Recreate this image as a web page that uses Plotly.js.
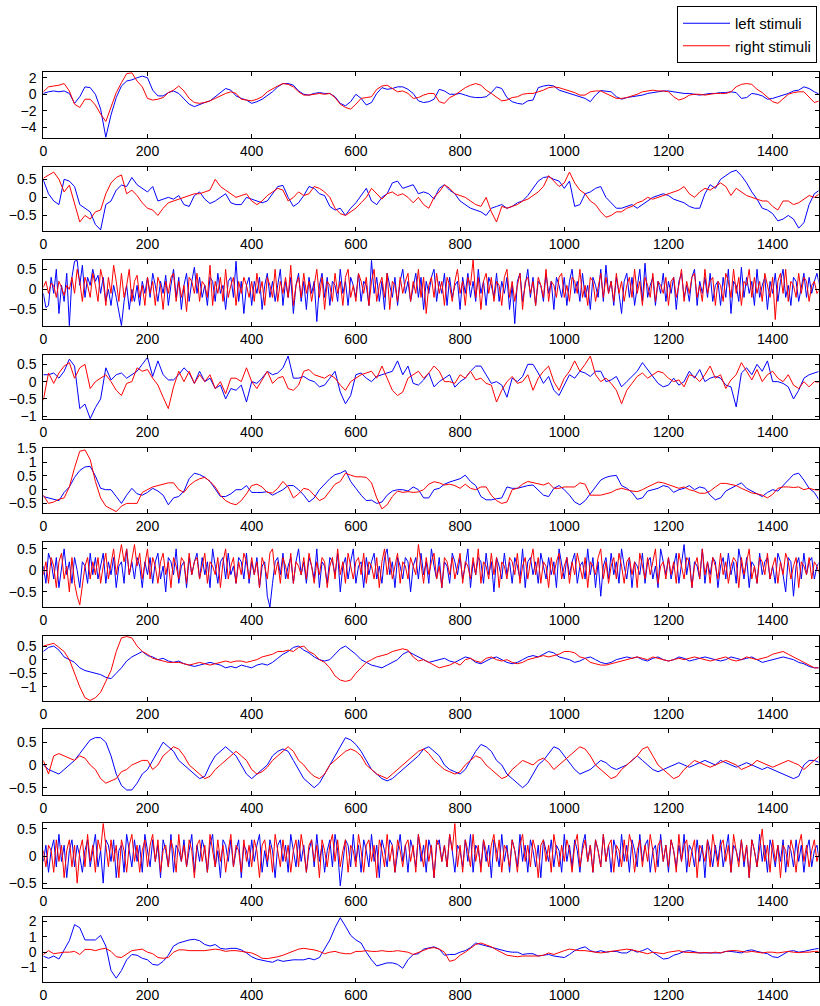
<!DOCTYPE html>
<html>
<head>
<meta charset="utf-8">
<script src="https://cdn.plot.ly/plotly-3.0.1.min.js"></script>
<style>
  html, body { margin: 0; padding: 0; background: #fff; }
  #chart { width: 820px; height: 1006px; }
</style>
</head>
<body>
<div id="chart"></div>
<script>
// Averaged responses per channel, sampled on a regular grid (step given per panel)
const xTicks = [0, 200, 400, 600, 800, 1000, 1200, 1400];
const xStep = [10, 10, 5, 10, 10, 5, 10, 10, 5, 10];

const p1Left = [0.1,0.3,0.4,0.3,0.4,0.1,-1.1,-0.3,0.9,0.8,
0.0,-1.8,-5.2,-2.5,-0.4,1.0,1.6,1.75,2.0,2.2,
2.0,0.5,-0.2,-0.2,0.2,0.4,0.1,-0.6,-1.2,-1.5,
-1.2,-1.0,-0.8,-0.3,0.2,0.7,0.5,-0.2,-0.5,-0.7,
-1.1,-0.9,-0.6,-0.2,0.3,0.9,1.3,1.3,1.1,0.4,
0.0,-0.1,0.1,0.2,0.1,0.1,-0.3,-1.1,-1.4,-0.9,
0.0,-0.5,-1.3,-1.0,0.1,0.8,0.6,0.7,0.9,0.9,
0.6,0.1,-0.8,-1.0,-0.9,-0.6,0.6,0.4,0.0,0.0,
0.1,-0.1,-0.3,-0.4,-0.4,-0.3,0.2,0.9,0.7,-0.4,
-0.9,-1.1,-1.2,-0.8,-0.7,0.8,1.0,1.1,1.0,0.5,
0.3,0.1,-0.1,-0.3,-0.5,-0.9,-0.1,0.45,0.4,0.3,
-0.3,-0.6,-0.4,-0.3,-0.2,-0.1,0.1,0.2,0.3,0.4,
0.4,0.3,0.2,0.1,0.1,0.0,-0.1,0.0,0.1,0.1,
0.2,0.2,0.3,0.2,-0.5,-0.4,0.1,0.0,-0.2,-0.6,
-0.5,-0.3,-0.1,0.1,0.4,0.5,0.9,0.7,0.3,0.0];
const p1Right = [0.3,0.9,1.0,1.1,1.3,0.4,-1.2,-1.6,-0.6,-0.6,
-1.3,-2.4,-3.3,-1.6,0.2,1.4,2.5,2.6,1.6,0.9,
-0.5,-0.7,-0.6,-0.4,0.2,0.5,1.0,0.4,-0.5,-1.0,
-1.1,-1.0,-0.8,-0.5,-0.2,0.1,0.3,0.1,-0.6,-0.7,
-0.8,-0.6,-0.3,0.3,0.7,1.0,1.3,1.2,0.9,0.3,
-0.1,-0.1,0.0,0.1,0.0,0.1,-0.4,-1.2,-1.6,-1.8,
-1.2,-0.5,-0.4,-0.3,0.6,1.0,1.1,0.7,0.3,0.4,
0.1,-0.5,-0.4,-0.1,0.1,0.1,-0.9,-1.1,-0.4,-0.1,
0.4,0.8,1.1,1.3,1.1,0.5,0.1,-0.3,-0.8,-0.7,
-0.4,-0.3,0.0,0.1,0.1,0.3,0.5,0.8,0.9,0.8,
0.6,0.4,0.2,-0.1,-0.1,0.3,0.4,0.4,0.1,-0.2,
-0.5,-0.5,-0.4,-0.2,0.0,0.3,0.4,0.5,0.4,0.4,
0.3,-0.3,-0.7,-0.5,-0.1,0.0,0.0,-0.1,0.0,0.1,
0.1,0.1,0.3,0.9,1.2,1.3,1.2,0.6,0.2,-0.4,
-0.9,-1.1,-0.5,0.0,0.2,0.3,0.3,-0.4,-1.0,-0.8];

const p2Left = [0.48,0.1,-0.1,-0.2,0.5,0.45,0.3,-0.2,-0.3,-0.4,
-0.75,-0.9,-0.2,-0.1,0.2,0.34,0.3,0.55,0.35,0.25,
0.15,0.3,-0.1,-0.05,0.0,-0.05,0.05,-0.2,-0.25,0.05,
0.15,-0.05,-0.17,-0.1,0.0,0.1,-0.15,-0.2,-0.2,0.0,
-0.05,-0.1,-0.15,-0.1,0.1,0.3,0.33,0.0,-0.25,-0.15,
0.05,0.3,0.25,0.1,0.05,-0.25,-0.35,-0.3,-0.5,-0.3,
-0.15,0.05,0.25,-0.1,-0.2,0.0,0.1,0.4,0.45,0.25,
0.3,0.35,0.1,0.15,0.1,-0.05,0.25,0.35,0.2,0.1,
-0.1,-0.2,-0.3,-0.35,-0.4,-0.5,-0.3,-0.25,-0.2,-0.3,
-0.25,-0.15,-0.1,0.05,0.25,0.45,0.55,0.57,0.5,0.45,
0.25,0.45,-0.25,-0.2,0.1,0.15,0.25,0.3,0.0,-0.15,
-0.3,-0.3,-0.25,-0.2,-0.3,-0.2,-0.1,0.0,0.05,0.1,
0.05,-0.05,-0.1,-0.15,-0.25,-0.3,-0.3,0.1,0.35,0.25,
0.5,0.6,0.7,0.75,0.6,0.4,0.15,-0.05,-0.3,-0.35,
-0.45,-0.65,-0.6,-0.5,-0.6,-0.85,-0.7,-0.2,0.1,0.2];
const p2Right = [0.53,0.62,0.7,0.5,0.15,0.34,-0.2,-0.68,-0.5,-0.6,
-0.4,-0.35,0.1,0.4,0.55,0.62,0.1,0.2,0.05,-0.15,
-0.3,-0.35,-0.5,-0.3,-0.15,-0.1,-0.05,0.0,0.05,0.1,
0.1,0.15,0.2,0.5,0.3,0.2,0.1,0.0,0.05,0.1,
-0.1,-0.2,-0.1,0.05,0.15,0.25,0.2,-0.1,0.0,0.15,
0.05,0.1,0.3,0.25,0.15,0.0,-0.3,-0.45,-0.5,-0.4,
-0.3,-0.15,0.0,0.25,0.1,-0.05,0.1,0.15,0.05,0.1,
0.0,-0.15,0.0,-0.2,-0.3,0.0,0.15,0.35,0.25,0.1,
0.05,0.0,-0.1,-0.2,-0.25,0.0,-0.4,-0.68,-0.25,-0.3,
-0.25,-0.2,-0.1,-0.05,0.05,0.15,0.3,0.6,0.45,0.3,
0.4,0.7,0.4,0.2,0.1,-0.1,-0.2,-0.4,-0.55,-0.5,
-0.4,-0.4,-0.3,-0.25,-0.15,-0.1,0.0,-0.05,0.0,0.05,
0.1,0.15,0.2,0.3,0.1,0.0,0.15,0.25,0.2,0.3,
0.4,0.3,0.05,0.25,0.15,0.05,0.0,-0.05,-0.1,-0.1,
-0.25,-0.35,-0.1,-0.1,-0.2,-0.15,-0.05,0.05,0.0,0.1];

const p3Left = [-.1,-.45,-.4,.3,-.1,.5,-.6,.1,-.3,.4,-.9,.3,.7,.72,.1,.6,-.2,.3,.1,.5,
.2,.35,-.1,.3,-.3,0,-.4,.1,-.2,-.6,-.9,-.3,.1,-.5,0,-.3,.1,-.4,.2,-.1,
.3,-.2,.4,.1,-.3,.2,-.1,.35,-.4,.1,.5,-.2,.3,-.5,.1,.4,-.3,.2,.55,-.1,
.3,-.2,.1,-.4,.3,.2,-.3,.4,-.1,.1,-.5,.2,.3,-.2,.7,-.3,.2,-.6,.1,.3,
-.4,.2,-.1,.3,-.5,.1,.4,-.2,.2,-.3,.1,.5,-.4,.2,-.2,.3,-.6,.1,.4,-.3,
.2,-.5,.3,-.1,.2,-.8,.1,.4,-.2,.3,-.4,.2,.1,-.3,.5,-.1,.2,-.4,.3,.1,
-.2,.4,-.3,.2,.1,-.4,.72,-.1,.3,-.3,.2,-.5,.4,.1,-.2,.3,-.4,.2,.5,-.1,
.2,-.3,.1,.4,-.2,.3,-.5,.2,-.1,.3,.5,-.3,.2,-.1,.4,-.4,.3,-.2,.1,.2,
-.5,.3,-.1,.4,-.2,.2,-.3,.5,-.1,.2,-.4,.3,.1,-.2,.4,-.3,.2,-.1,.3,-.5,
.1,-.85,.2,.4,-.3,.1,.5,-.2,.3,-.4,.2,.1,-.3,.4,-.1,.2,-.5,.3,.1,-.2,
.3,-.4,.2,.5,-.1,.2,-.3,.4,-.2,.1,-.5,.3,.1,-.2,.5,-.3,.6,-.1,.2,-.4,
.3,-.1,-.6,.2,.4,-.2,.3,-.4,.1,.5,-.3,.65,-.2,.1,.3,-.4,.2,-.1,.4,-.3,
.2,-.1,.3,-.5,.2,.4,-.2,.1,-.3,.3,.5,-.4,.2,-.1,.3,-.2,.4,-.3,.1,.2,
-.4,.3,-.2,.5,-.6,.2,.1,-.3,.55,-.2,.3,-.1,.2,-.4,.5,-.2,.1,.3,-.5,.2,
-.1,.4,-.3,.2,.5,-.2,.1,-.4,.3,.2,-.3,.1,.4,-.2,.3,-.1,.2,.4,.1];
const p3Right = [.05,.2,-.1,.15,.1,-.2,.2,.05,-.15,.1,0,.3,-.1,.5,.2,-.3,.3,.1,-.2,.4,
.1,-.3,.5,.2,-.4,.3,-.1,.6,.2,-.3,.4,-.2,.1,.5,-.3,.2,.35,-.2,.1,-.4,
.3,-.1,.2,-.4,.3,.1,-.5,.2,-.1,.3,.4,-.3,.2,-.2,.1,-.55,.3,.2,-.1,.4,
-.3,.2,.1,-.2,.6,-.4,.2,-.1,.3,-.3,.5,-.2,.1,.3,-.4,.2,-.1,.3,.1,-.2,
.2,-.3,.4,-.1,.2,-.4,.3,.1,-.2,.5,-.3,.2,-.1,.3,-.2,.6,-.4,.1,.3,-.2,
.4,-.1,.2,-.3,.1,.5,-.2,.3,-.5,.2,.1,-.3,.4,-.1,.2,-.4,.3,.5,-.2,.1,
-.3,.4,.2,-.1,.3,-.4,.2,.5,-.3,.1,.3,-.2,.4,-.5,.2,.1,-.3,.3,-.1,.2,
.4,-.3,.2,-.1,.5,-.2,.3,-.6,.1,.3,-.2,.4,-.1,.2,-.4,.3,.1,-.3,.2,.5,
-.1,.2,-.4,.3,.1,.73,-.2,.3,-.5,.2,.4,-.1,.3,-.3,.2,.1,-.4,.3,.5,-.2,
.2,-.3,.1,.4,-.5,.2,.3,-.1,.2,-.4,.3,.1,-.2,.5,-.3,.2,.1,-.2,.3,.4,
-.2,.1,-.3,.3,.2,-.1,.5,-.2,.1,-.4,.3,.2,-.3,.1,.4,-.2,.3,-.1,.2,-.3,
.4,-.1,.2,-.3,.1,.3,-.2,.5,-.1,.2,-.4,.3,.1,-.2,.4,-.3,.2,.1,-.1,.3,
-.4,.2,.3,-.2,.1,.5,-.3,.2,-.1,.3,.4,-.2,.1,-.3,.5,-.1,.2,.3,-.4,.2,
.1,-.3,.4,.2,-.2,.5,-.1,.3,-.4,.2,.1,.5,-.2,.3,-.1,.2,-.3,.4,.1,-.2,
.3,-.75,.2,.4,-.1,.5,-.3,.2,.1,-.2,.4,-.1,.3,.2,-.3,.1,.2,-.1,0];

const p4Left = [0.2,0.2,0.25,0.1,0.3,0.65,0.45,-0.78,-0.65,-1.07,
-0.75,-0.5,0.4,0.05,0.2,0.25,0.1,0.2,0.3,0.5,
0.7,0.15,0.6,0.2,0.05,0.05,0.2,0.4,0.25,-0.05,
0.3,0.0,0.1,-0.2,-0.1,-0.5,-0.2,-0.25,-0.1,-0.59,
0.0,-0.05,0.1,0.3,0.2,0.25,0.4,0.74,0.1,0.1,
0.15,0.05,0.0,-0.15,-0.1,0.1,0.3,-0.3,-0.64,-0.4,
0.2,0.25,0.1,0.0,0.15,0.2,0.25,0.3,0.6,0.2,
0.45,-0.05,-0.1,0.05,0.25,-0.15,0.0,0.1,0.2,-0.16,
0.0,0.1,0.3,0.45,0.45,0.2,-0.05,0.0,-0.1,-0.45,
0.1,0.0,0.15,0.5,0.5,0.25,-0.05,0.15,-0.25,-0.4,
-0.1,0.2,0.1,0.3,0.25,0.15,0.3,0.3,0.0,0.05,
0.15,-0.15,0.0,0.15,0.3,0.55,0.35,0.15,-0.05,-0.15,
-0.1,0.1,-0.1,0.0,0.3,0.1,0.35,0.0,0.1,0.15,
0.1,-0.1,-0.15,-0.73,0.25,0.4,0.2,0.5,0.3,0.6,
0.0,0.0,-0.05,-0.15,-0.5,-0.25,0.1,0.2,0.25,0.3];
const p4Right = [-0.54,0.25,-0.05,0.25,0.45,0.55,0.1,0.4,0.5,-0.2,
0.0,0.1,0.2,0.0,-0.25,-0.4,-0.05,0.0,0.4,0.3,
0.35,0.1,-0.1,-0.45,-0.78,-0.15,0.3,0.0,0.3,-0.05,
0.2,0.0,0.2,-0.2,0.0,-0.35,0.1,0.1,0.0,0.4,
0.0,-0.2,0.05,0.3,-0.05,0.1,0.15,-0.2,-0.25,-0.1,
0.3,0.35,0.2,0.15,0.1,0.2,0.1,-0.1,-0.25,0.0,
0.1,0.2,0.25,0.3,0.1,0.45,0.1,-0.25,-0.4,-0.3,
0.1,0.2,0.3,0.1,0.25,0.45,0.3,0.0,0.0,-0.05,
0.2,0.1,0.3,0.05,0.1,-0.05,-0.1,-0.59,-0.25,0.0,
0.15,-0.05,0.0,0.2,-0.25,0.1,0.3,0.45,0.0,-0.25,
0.1,0.3,0.6,0.3,0.5,0.74,0.2,0.0,0.1,-0.05,
-0.25,-0.64,-0.25,-0.05,0.15,0.25,0.1,0.2,0.3,0.25,
0.1,0.0,0.05,-0.15,0.2,0.15,0.0,0.2,0.45,0.1,
0.2,-0.2,0.05,0.2,0.55,0.3,0.05,0.35,0.0,0.2,
0.3,0.1,0.0,0.2,-0.1,-0.2,0.0,-0.15,0.0,-0.02];

const p5Left = [-0.25,-0.3,-0.37,-0.4,-0.1,0.1,0.45,0.7,0.83,0.85,
0.5,0.05,0.0,0.0,-0.25,-0.5,-0.2,0.05,-0.15,-0.2,
-0.1,0.05,-0.05,-0.2,-0.55,-0.3,-0.25,-0.05,0.4,0.6,
0.55,0.45,0.3,0.0,-0.25,-0.25,-0.15,0.0,0.0,0.15,
-0.1,-0.1,-0.1,-0.07,-0.2,-0.1,0.0,0.15,0.15,0.0,
-0.2,-0.45,-0.3,0.0,0.2,0.4,0.55,0.6,0.7,0.3,
0.05,-0.2,-0.4,-0.38,-0.5,-0.45,-0.2,-0.05,0.0,0.0,
-0.05,0.1,0.0,-0.3,-0.3,0.0,0.05,0.2,0.28,0.35,
0.4,0.53,0.3,0.15,-0.25,-0.37,-0.37,-0.33,-0.3,0.1,
0.05,0.05,0.1,0.15,0.17,0.0,-0.2,-0.25,0.05,0.15,
0.0,-0.2,-0.45,-0.55,-0.4,-0.15,0.1,0.35,0.45,0.5,
0.52,0.15,0.05,-0.1,-0.35,-0.3,-0.05,0.0,0.05,0.15,
0.1,-0.1,0.0,0.05,0.15,0.0,0.1,0.05,-0.2,-0.37,
-0.3,-0.05,0.05,0.15,0.25,0.05,-0.05,-0.15,-0.25,-0.1,
0.0,-0.05,0.15,0.35,0.55,0.6,0.35,0.05,-0.1,-0.4];
const p5Right = [-0.2,-0.5,-0.45,-0.35,-0.3,0.1,0.8,1.4,1.45,1.1,
0.3,-0.3,-0.6,-0.7,-0.8,-0.6,-0.5,-0.5,-0.5,-0.1,
0.0,0.1,0.15,0.2,0.25,0.25,0.0,-0.1,0.15,0.3,
0.4,0.45,0.3,0.1,-0.2,-0.4,-0.5,-0.55,-0.4,-0.15,
0.15,0.2,0.1,-0.1,-0.12,0.05,0.3,0.1,-0.3,-0.15,
0.05,0.0,-0.2,-0.4,-0.3,-0.05,0.2,0.3,0.6,0.53,
0.47,0.47,0.45,0.25,-0.3,-0.7,-0.55,-0.25,-0.05,-0.1,
-0.07,-0.1,-0.08,0.0,0.2,0.29,0.25,0.17,0.2,0.15,
0.05,0.2,0.05,0.0,0.1,0.1,-0.2,-0.4,-0.5,-0.45,
0.0,0.05,0.2,0.3,0.25,0.2,0.17,0.25,0.05,0.05,
0.1,0.1,0.1,0.25,0.2,-0.2,-0.2,-0.2,-0.15,-0.1,
0.0,0.05,0.0,-0.05,-0.07,0.0,0.1,0.2,0.28,0.25,
0.18,0.12,0.05,0.1,0.0,-0.05,-0.13,-0.13,-0.05,0.1,
0.23,0.23,0.2,0.15,0.05,-0.05,-0.12,-0.15,-0.2,-0.3,
-0.17,0.05,0.1,0.1,0.08,0.1,0.0,0.05,0.0,-0.02];

const p6Left = [.1,-.3,.4,.2,-.2,.3,-.4,.1,.5,-.1,.2,-.3,.3,0,-.4,.2,.1,-.3,.4,-.1,
.3,-.2,.1,.4,-.3,.2,-.1,.3,-.4,.1,.2,-.3,.5,-.1,.2,-.2,.3,.1,-.4,.2,
-.1,.3,-.3,.2,.4,-.2,.1,-.5,.3,.2,-.1,.5,-.3,.1,.2,-.4,.3,-.1,.2,.4,
-.2,.3,-.1,.2,-.4,.5,.1,-.3,.2,.3,-.2,.4,-.1,.1,-.3,.3,.2,-.2,.4,-.3,
.2,-.1,.3,-.4,.1,.2,-.6,-.85,-.3,.2,.3,-.1,.4,-.2,.1,.3,-.3,.2,.5,-.1,
.2,-.3,.3,.1,-.2,.5,-.4,.2,.1,-.3,.3,.2,-.1,.4,-.5,.1,.3,-.2,.2,.5,
-.3,.1,.2,-.4,.3,-.1,.2,.4,-.2,.1,-.3,.3,.5,-.1,.2,-.4,.3,.1,-.2,.3,
.2,-.5,.1,.3,-.2,.4,-.1,.2,-.3,.5,.1,-.2,.3,-.4,.2,.1,-.3,.4,.2,-.1,
.3,-.2,.1,.5,-.4,.2,-.1,.3,.2,-.3,.4,-.1,.2,-.5,.3,.1,-.2,.4,-.1,.2,
-.3,.3,.1,-.2,.5,-.4,.2,.3,-.1,.2,-.3,.4,.1,-.2,.3,-.1,.2,-.4,.5,.1,
-.2,.3,-.1,.2,.4,-.3,.1,.2,-.2,.5,-.1,.3,-.4,.2,-.6,.1,.3,-.2,.4,-.1,
.2,-.3,.5,.1,-.2,.3,-.4,.2,.1,-.1,.4,-.3,.2,.3,-.2,.1,-.4,.5,.2,-.1,
.3,-.2,.1,.4,-.3,.2,.6,-.1,.3,-.4,.2,.1,-.2,.5,-.3,.2,-.1,.3,.2,-.4,
.1,.3,-.2,.4,-.1,.2,-.3,.5,.1,-.2,.3,-.4,.2,.1,-.3,.4,-.1,.2,.3,-.2,
.1,-.3,.4,.2,-.1,-.5,.3,.2,-.6,.1,.3,-.2,.4,-.1,.2,.3,-.2,.1,.2];
const p6Right = [-.1,.2,-.3,.3,.1,-.4,.2,.4,-.2,.1,-.5,.3,-.3,-.6,-.8,-.4,.1,.3,-.2,.2,
-.1,.3,-.3,.1,.4,-.2,.2,.5,-.1,.3,.6,.2,.5,-.1,.3,.6,.1,.4,-.2,.2,
.5,-.2,.3,.1,-.3,.2,.4,-.1,.2,-.4,.3,.1,-.2,.3,.2,-.3,.4,-.1,.2,.3,
-.2,.1,.4,-.3,.2,.1,-.1,.3,-.4,.2,.5,-.2,.1,.3,-.3,.2,-.1,.4,.2,-.2,
.3,-.1,.2,-.4,.3,.1,-.2,.4,.5,-.1,.2,-.3,.3,.1,-.2,.4,-.3,.2,.1,-.1,
.3,-.2,.4,.1,-.3,.2,-.1,.3,.2,-.4,.1,.3,-.2,.5,-.1,.2,-.3,.4,.1,-.2,
.2,.3,-.1,.4,-.3,.2,.1,-.2,.3,-.4,.2,.5,-.1,.3,-.2,.1,.4,-.3,.2,.1,
-.2,.3,.1,-.1,.6,.2,-.3,.3,-.1,.2,.4,-.2,.1,-.4,.3,.2,-.1,.3,-.2,.1,
.4,-.3,.2,.1,-.2,.3,-.1,.5,-.3,.2,.1,-.2,.4,-.1,.3,-.4,.2,.1,-.2,.3,
.2,-.1,.4,-.3,.1,.3,-.2,.2,.5,-.1,.3,-.3,.2,.1,-.4,.3,-.1,.2,.4,-.2,
.1,.3,-.3,.2,-.1,.4,.1,-.2,.3,-.4,.2,.1,-.1,.3,.5,-.2,.2,-.3,.1,.3,
-.2,.4,.1,-.3,.2,.3,-.1,.2,-.4,.4,.1,-.2,.3,-.1,.2,.5,-.3,.1,.2,-.2,
.3,-.1,.2,-.3,.4,.1,-.2,.3,.2,-.4,.1,.3,-.2,.5,-.1,.2,-.3,.3,.1,-.2,
.4,-.1,.2,-.3,.1,.3,.2,-.4,.3,-.1,.2,.5,-.2,.1,-.3,.3,.2,-.1,.4,-.2,
.1,.3,-.3,.2,-.1,.4,.2,-.2,.1,.3,-.4,.2,.1,-.1,.3,-.2,.2,.1,-.1];

const p7Left = [0.3,0.45,0.5,0.35,0.1,0.0,-0.1,-0.3,-0.4,-0.45,
-0.5,-0.55,-0.65,-0.7,-0.5,-0.3,-0.05,0.1,0.2,0.3,
0.15,0.1,0.0,0.05,-0.05,-0.1,-0.05,-0.15,-0.2,-0.25,
-0.2,-0.15,-0.1,-0.15,-0.2,-0.3,-0.25,-0.3,-0.2,-0.25,
-0.3,-0.2,-0.15,-0.2,-0.1,0.05,0.2,0.3,0.45,0.5,
0.35,0.25,0.1,0.0,-0.05,0.0,0.2,0.4,0.5,0.35,
0.2,0.0,-0.1,-0.2,-0.25,-0.3,-0.2,-0.1,0.0,0.2,
0.3,0.2,0.1,0.0,-0.1,-0.05,0.0,0.05,-0.05,-0.1,
0.0,0.1,0.05,-0.1,-0.15,-0.05,0.05,0.1,0.0,-0.1,
-0.15,-0.1,0.0,0.1,0.15,0.1,0.2,0.3,0.25,0.1,
0.05,0.0,-0.1,-0.05,0.05,0.1,0.0,-0.1,-0.15,-0.1,
0.0,0.05,0.1,0.05,0.1,0.0,-0.05,0.05,0.1,0.0,
-0.05,0.0,0.1,0.05,-0.05,0.0,0.05,0.1,0.05,0.0,
-0.05,0.0,0.1,0.05,0.0,0.05,0.1,0.0,-0.1,-0.05,
0.0,0.05,0.1,0.05,0.0,-0.1,-0.15,-0.25,-0.3,-0.3];
const p7Right = [0.5,0.55,0.6,0.45,0.3,0.0,-0.5,-1.0,-1.4,-1.5,
-1.4,-1.2,-0.8,-0.4,0.3,0.8,0.85,0.8,0.5,0.3,
0.2,0.05,0.0,-0.05,-0.1,-0.1,-0.1,-0.15,-0.2,-0.15,
-0.1,-0.15,-0.2,-0.15,-0.1,-0.05,-0.1,-0.05,-0.05,-0.1,
-0.05,0.0,0.1,0.15,0.2,0.3,0.3,0.35,0.3,0.45,
0.5,0.3,0.2,0.0,-0.1,-0.3,-0.6,-0.75,-0.8,-0.75,
-0.5,-0.3,-0.1,0.0,0.1,0.15,0.2,0.3,0.35,0.4,
0.35,0.1,-0.05,0.0,-0.1,-0.2,-0.3,-0.25,-0.2,-0.1,
-0.2,0.0,0.05,-0.05,-0.1,0.05,0.1,0.0,-0.05,0.0,
-0.1,-0.15,-0.1,0.0,0.05,0.1,0.15,0.1,0.15,0.2,
0.3,0.3,0.25,0.1,0.05,-0.1,-0.15,-0.2,-0.2,-0.15,
-0.1,-0.05,0.0,0.05,0.1,0.05,0.0,0.1,0.05,0.0,
-0.05,0.0,0.05,0.0,0.05,0.1,0.05,0.0,-0.05,0.0,
0.05,0.1,0.0,-0.05,0.0,0.1,0.05,0.0,0.05,0.1,
0.2,0.25,0.3,0.2,0.1,0.0,-0.1,-0.2,-0.3,-0.3];

const p8Left = [0.0,-0.1,-0.15,-0.2,-0.1,0.0,0.1,0.25,0.4,0.55,
0.6,0.6,0.5,0.2,-0.2,-0.45,-0.55,-0.55,-0.4,-0.2,
-0.1,0.1,0.3,0.5,0.4,0.3,0.1,0.0,-0.1,-0.2,
-0.3,-0.25,0.0,0.2,0.3,0.4,0.3,0.2,0.0,-0.2,
-0.3,-0.2,-0.1,0.0,0.2,0.3,0.35,0.3,0.1,-0.1,
-0.3,-0.4,-0.5,-0.4,-0.2,0.0,0.2,0.4,0.6,0.55,
0.45,0.3,0.1,-0.1,-0.2,-0.3,-0.35,-0.3,-0.2,-0.1,
0.0,0.1,0.2,0.35,0.4,0.3,0.2,0.0,-0.1,-0.15,
-0.2,-0.1,0.1,0.3,0.45,0.4,0.3,0.1,0.0,-0.2,
-0.3,-0.4,-0.5,-0.4,-0.2,0.0,0.1,0.25,0.4,0.35,
0.2,0.05,-0.1,-0.2,-0.15,-0.1,0.0,0.1,0.05,-0.05,
-0.1,-0.05,0.0,0.1,0.2,0.1,0.0,-0.1,-0.15,-0.1,
-0.05,0.0,0.05,0.0,-0.05,0.0,0.05,0.1,0.05,0.0,
0.1,0.05,0.0,-0.05,0.0,0.05,0.0,-0.05,-0.1,-0.05,
-0.1,-0.15,-0.2,-0.25,-0.3,-0.25,0.0,0.1,0.1,0.05];
const p8Right = [0.1,-0.2,0.2,0.25,0.2,0.15,0.1,0.2,0.15,0.0,
-0.1,-0.3,-0.4,-0.35,-0.3,-0.15,-0.1,0.0,0.05,0.1,
0.1,-0.1,0.0,0.2,0.3,0.4,0.35,0.2,0.0,-0.1,
-0.2,-0.3,-0.25,-0.1,0.0,0.1,0.2,0.3,0.2,0.1,
-0.1,-0.2,-0.15,-0.05,0.1,0.2,0.3,0.4,0.3,0.1,
0.0,-0.15,-0.25,-0.3,-0.2,0.0,0.1,0.2,0.3,0.35,
0.3,0.2,0.0,-0.1,-0.2,-0.25,-0.3,-0.2,-0.1,0.0,
0.1,0.2,0.3,0.35,0.25,0.1,0.0,-0.1,-0.15,-0.2,
-0.15,0.0,0.1,0.2,0.15,0.0,-0.1,-0.2,-0.3,-0.25,
-0.1,0.0,0.1,0.05,0.0,0.1,0.15,0.05,-0.1,0.0,
0.1,0.2,0.3,0.4,0.35,0.2,0.0,-0.1,-0.2,-0.3,
-0.25,-0.1,0.0,0.1,0.2,0.35,0.4,0.2,0.0,-0.1,
-0.2,-0.3,-0.25,-0.1,0.0,0.1,0.05,0.0,-0.05,0.0,
0.05,0.1,0.05,0.0,-0.1,-0.05,0.0,0.1,0.05,0.0,
-0.05,0.0,0.05,0.1,0.05,0.0,-0.1,0.0,0.1,0.2];

const p9Left = [-.1,.2,-.3,.1,.3,-.2,.4,-.1,.2,-.4,.1,.3,-.2,.2,0,-.3,.1,.3,-.2,.1,
.4,-.2,.1,-.5,.3,.2,-.1,.3,-.4,.1,.2,-.3,.4,.1,-.2,.3,-.1,.2,-.3,.4,
.1,-.2,.3,-.1,.2,-.4,.3,.1,-.2,.4,-.3,.2,.1,-.1,.3,-.2,.1,.4,-.3,.2,
-.1,.3,.1,-.3,.2,.4,-.2,.1,-.4,.3,.2,-.1,.3,-.2,.1,.3,-.4,.2,.1,-.2,
.3,-.1,.2,.4,-.3,.1,-.2,.3,.1,-.4,.2,.3,-.1,.2,-.3,.4,.1,-.2,.3,-.1,
.2,-.3,.1,.3,-.2,.4,-.1,.2,-.3,.1,.3,-.2,.4,.1,-.55,-.1,.3,.2,-.2,.4,
-.1,.2,-.3,.3,.1,-.2,.4,-.1,.2,-.4,.3,.1,-.2,.3,.2,-.3,.1,.4,-.1,.2,
-.3,.3,.1,-.2,.4,-.1,.2,-.3,.3,.1,-.4,.2,.3,-.1,.2,-.2,.4,.1,-.3,.2,
.1,-.2,.3,-.1,.4,-.3,.2,.1,-.2,.3,-.1,.2,-.4,.3,.1,-.2,.4,-.1,.2,-.3,
.3,.1,-.2,.4,-.1,.2,-.3,.3,.1,-.2,.2,-.4,.3,.1,-.1,.3,-.2,.2,.1,-.3,
.4,-.1,.2,-.2,.3,.1,-.3,.2,.4,-.1,.2,-.3,.3,.1,-.2,.4,-.1,.2,-.3,.3,
.1,-.2,.4,-.1,.2,-.3,.3,.1,-.2,.4,-.1,.2,.3,-.3,.1,.2,-.2,.4,-.1,.2,
-.3,.3,.1,-.2,.2,-.1,.4,-.3,.2,.1,-.2,.3,-.1,.2,-.4,.3,.1,-.2,.2,-.1,
.3,-.2,.1,.4,-.3,.2,.1,-.1,.3,-.2,.2,-.4,.3,.1,-.2,.4,-.1,.2,-.3,.3,
.1,-.2,.2,-.1,.3,-.3,.2,.1,-.2,.3,-.1,.2,-.3,.1,.3,-.2,.1,.2,-.1];
const p9Right = [.1,-.2,.2,.1,-.3,.3,-.1,.2,-.4,.1,.3,-.2,.2,-.5,.1,.3,-.2,.4,-.1,.2,
-.3,.3,.1,.6,.2,-.2,.3,-.1,.2,-.4,.3,.1,-.3,.2,.4,-.1,.2,-.3,.1,.3,
-.2,.2,.4,-.1,.3,-.3,.1,.2,-.2,.3,.1,-.3,.4,-.1,.2,-.2,.3,.1,-.4,.2,
.3,-.1,.2,-.3,.4,.1,-.2,.3,-.1,.2,-.3,.1,.4,-.2,.2,.1,-.3,.3,-.1,.2,
-.2,.3,.1,-.4,.2,.3,-.1,.2,-.3,.4,.1,-.2,.3,-.1,.2,-.3,.1,.3,-.2,.4,
.1,-.3,.2,.3,-.1,.2,-.4,.3,.1,-.2,.2,.4,-.1,.3,-.2,.1,.3,-.3,.2,.1,
-.2,.4,.1,-.3,.2,.3,-.1,.2,-.4,.3,.1,-.2,.4,-.1,.2,-.3,.3,.1,-.2,.2,
.3,-.1,.2,-.3,.4,.1,-.2,.3,-.1,.2,-.4,.3,.2,-.1,.2,-.2,.4,.1,.6,-.2,
.2,-.3,.3,.1,-.2,.4,-.1,.2,-.3,.3,.1,-.2,.2,.4,-.1,.3,-.3,.2,.1,-.2,
.3,.1,-.3,.2,.4,-.1,.2,-.2,.3,.1,-.4,.2,.3,-.1,.2,-.3,.4,.1,-.2,.2,
-.1,.3,.1,-.3,.2,.4,-.2,.1,.3,-.1,.2,-.3,.3,.1,-.2,.4,-.1,.2,.3,-.3,
.2,.1,-.2,.3,-.1,.4,.2,-.3,.1,.3,-.2,.2,-.1,.4,.1,-.3,.2,.3,-.1,.2,
-.2,.3,.1,-.3,.4,-.1,.2,.3,-.2,.1,.3,-.4,.2,.1,-.1,.3,-.2,.4,.1,-.2,
.2,.3,-.1,.2,-.3,.4,.1,-.2,.3,-.1,.2,-.4,.3,.1,-.2,.2,.5,-.1,.2,-.3,
.3,-.1,.2,-.4,.2,.1,-.2,.3,.1,-.3,.2,.4,-.1,.2,-.2,.1,.3,-.1,.1];

const p10Left = [-0.26,-0.4,-0.25,-0.45,0.15,0.75,1.8,1.6,0.8,0.8,
0.8,1.1,0.4,-1.2,-1.7,-1.2,-0.5,-0.15,-0.2,-0.4,
-0.5,-0.8,-0.85,-0.6,-0.2,0.4,0.6,0.7,0.8,0.84,
0.75,0.5,0.4,0.5,0.25,0.2,0.25,0.25,0.15,-0.05,
-0.3,-0.45,-0.55,-0.6,-0.66,-0.5,-0.6,-0.55,-0.5,-0.5,
-0.5,-0.4,-0.5,-0.35,0.2,0.8,1.6,2.25,1.7,1.1,
0.8,0.6,0.0,-0.5,-0.9,-0.8,-0.7,-0.7,-0.8,-1.05,
-0.5,-0.15,-0.1,0.2,0.3,0.35,0.2,-0.2,-0.15,-0.15,
0.0,0.1,0.3,0.6,0.5,0.4,0.35,0.2,0.1,0.05,
0.0,0.0,-0.15,-0.1,-0.1,-0.25,-0.2,-0.15,-0.25,-0.3,
-0.35,-0.15,0.1,0.25,0.35,0.1,0.0,0.1,0.0,0.05,
0.05,-0.05,-0.05,0.15,0.0,0.1,0.25,0.0,-0.2,-0.45,
-0.4,-0.2,-0.1,0.05,0.1,0.0,-0.05,-0.05,-0.05,-0.05,
-0.05,0.05,0.05,0.0,-0.05,0.1,0.15,0.05,-0.05,-0.1,
-0.3,-0.35,-0.15,0.05,0.1,0.0,0.05,0.15,0.2,0.25];
const p10Right = [-0.16,0.1,-0.1,-0.05,0.0,0.0,0.05,-0.15,0.18,0.18,
0.1,0.2,0.25,0.05,-0.3,-0.35,-0.1,0.1,0.15,0.2,
0.0,-0.1,-0.35,-0.4,-0.35,0.0,0.15,0.15,0.1,0.1,
0.1,0.1,0.15,0.2,0.15,0.05,0.1,0.1,0.05,0.0,
-0.05,-0.2,-0.4,-0.42,-0.38,-0.3,-0.2,-0.05,0.1,0.2,
0.25,0.2,0.15,0.05,-0.1,0.0,0.05,-0.05,-0.1,-0.1,
0.05,0.05,0.1,0.05,0.05,0.1,0.05,0.05,0.1,0.05,
0.0,-0.15,0.0,0.1,0.25,0.3,0.2,0.0,-0.6,-0.5,
-0.2,0.0,0.25,0.5,0.6,0.5,0.35,0.15,-0.05,-0.2,
-0.25,-0.3,-0.25,-0.25,-0.25,-0.25,-0.2,-0.05,-0.15,0.0,
0.1,0.2,0.15,0.1,0.1,0.05,0.0,-0.05,0.0,0.05,
0.1,0.15,0.2,0.15,0.05,-0.05,-0.1,0.0,-0.05,-0.1,
0.0,0.05,0.1,0.0,-0.02,0.0,-0.05,-0.02,-0.05,0.0,
-0.05,0.05,0.1,0.1,0.05,0.0,0.05,0.0,-0.05,0.0,
0.0,-0.05,0.0,0.05,0.0,-0.03,0.0,0.0,0.05,0.05];

const leftSeries = [p1Left, p2Left, p3Left, p4Left, p5Left, p6Left, p7Left, p8Left, p9Left, p10Left];
const rightSeries = [p1Right, p2Right, p3Right, p4Right, p5Right, p6Right, p7Right, p8Right, p9Right, p10Right];

const yTickVals = [
  [-4, -2, 0, 2],
  [-0.5, 0, 0.5],
  [-0.5, 0, 0.5],
  [-1, -0.5, 0, 0.5],
  [-0.5, 0, 0.5, 1, 1.5],
  [-0.5, 0, 0.5],
  [-1, -0.5, 0, 0.5],
  [-0.5, 0, 0.5],
  [-0.5, 0, 0.5],
  [-1, 0, 1, 2]
];
const yRanges = [
  [-5.3, 2.7], [-0.93, 0.84], [-0.91, 0.73], [-1.08, 0.77], [-0.85, 1.52],
  [-0.85, 0.66], [-1.52, 0.87], [-0.66, 0.79], [-0.59, 0.61], [-1.95, 2.3]
];

// Panel geometry in pixels (page is 820 x 1006)
const W = 820, H = 1006;
const panelTop = [72, 167, 260, 355, 448, 542, 636, 729, 823, 917];
const panelBottom = [138, 231, 326, 419, 513, 607, 701, 795, 888, 982];
const plotLeft = 43.3, plotRight = 818.5;

const fontFamily = 'Liberation Sans, Arial, Helvetica, sans-serif';
const tickFont = { family: fontFamily, size: 14, color: '#000' };

const traces = [];
const layout = {
  width: W, height: H,
  margin: { l: 0, r: 0, t: 0, b: 0, pad: 0 },
  paper_bgcolor: '#fff', plot_bgcolor: '#fff',
  showlegend: true,
  legend: {
    x: 817 / W, xanchor: 'right', y: 1 - 6 / H, yanchor: 'top',
    bordercolor: '#000', borderwidth: 1, bgcolor: '#fff',
    font: { family: fontFamily, size: 15, color: '#000' },
    tracegroupgap: 0, itemwidth: 47
  }
};

for (let i = 0; i < 10; i++) {
  const s = i === 0 ? '' : String(i + 1);
  const step = xStep[i];
  const xl = leftSeries[i].map((_, k) => k * step);
  const xr = rightSeries[i].map((_, k) => k * step);
  traces.push({
    x: xl, y: leftSeries[i], xaxis: 'x' + s, yaxis: 'y' + s,
    type: 'scatter', mode: 'lines', name: 'left stimuli',
    legendgroup: 'left', showlegend: i === 0,
    line: { color: '#0000ff', width: 1 }, hoverinfo: 'skip'
  });
  traces.push({
    x: xr, y: rightSeries[i], xaxis: 'x' + s, yaxis: 'y' + s,
    type: 'scatter', mode: 'lines', name: 'right stimuli',
    legendgroup: 'right', showlegend: i === 0,
    line: { color: '#ff0000', width: 1 }, hoverinfo: 'skip'
  });
  const common = {
    showline: true, linecolor: '#000', linewidth: 1, mirror: 'ticks',
    ticks: 'inside', ticklen: 4, tickwidth: 1, tickcolor: '#000',
    showgrid: false, zeroline: false, tickfont: tickFont, fixedrange: true
  };
  layout['xaxis' + s] = Object.assign({}, common, {
    domain: [plotLeft / W, plotRight / W], range: [0, 1488],
    anchor: 'y' + s, tickmode: 'array', tickvals: xTicks, ticklabelstandoff: 0
  });
  layout['yaxis' + s] = Object.assign({}, common, {
    domain: [1 - panelBottom[i] / H, 1 - panelTop[i] / H], range: yRanges[i],
    anchor: 'x' + s, tickmode: 'array', tickvals: yTickVals[i], ticklabelstandoff: 3
  });
}

Plotly.newPlot('chart', traces, layout, { staticPlot: true, displayModeBar: false });
</script>
</body>
</html>
